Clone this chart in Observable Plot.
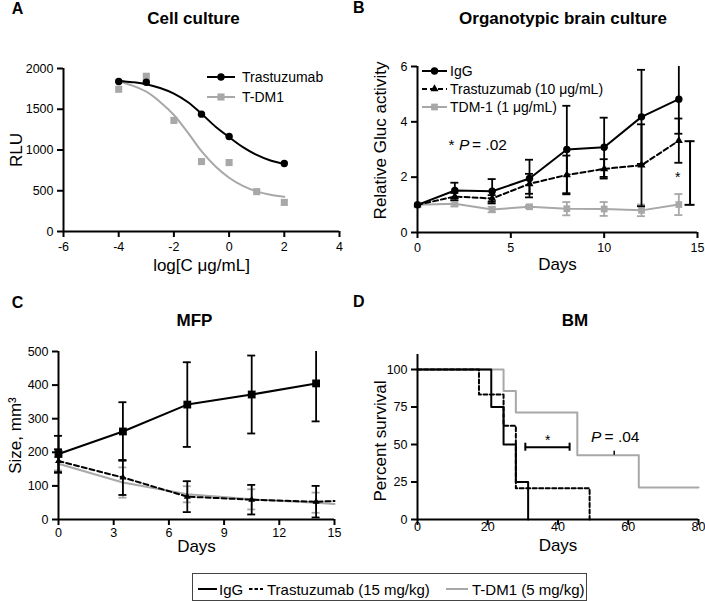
<!DOCTYPE html>
<html><head><meta charset="utf-8">
<script src="https://cdn.jsdelivr.net/npm/d3@7"></script>
<script src="https://cdn.jsdelivr.net/npm/@observablehq/plot@0.6"></script>
<style>
body{margin:0;background:#fff;}
#fig{position:relative;width:705px;height:601px;font-family:"Liberation Sans",Arial,Helvetica,sans-serif;color:#000;overflow:hidden;background:#fff}
.lbl{position:absolute;white-space:nowrap;line-height:1;}
</style></head><body><div id="fig"></div>
<script>
// ---------------- DATA ----------------
// Panel A: Cell culture (log concentration vs RLU)
const trastLogC = [-4, -3, -1, 0, 2];
const trastRLU  = [1840, 1832, 1440, 1165, 835];
const tdm1LogC  = [-4, -3, -2, -1, 0, 1, 2];
const tdm1RLU   = [1745, 1905, 1363, 858, 846, 489, 357];
// fitted curves
const fitLogC     = [-4, -3.5, -3, -2.5, -2, -1.5, -1, -0.5, 0, 0.5, 1, 1.5, 2];
const trastFitRLU = [1848, 1832, 1807, 1760, 1692, 1589, 1445, 1289, 1158, 1035, 940, 871, 830];
const tdm1FitRLU  = [1844, 1790, 1715, 1590, 1430, 1215, 985, 800, 660, 560, 492, 450, 425];
const xTicksA = [-6, -4, -2, 0, 2, 4];
const yTicksA = [0, 500, 1000, 1500, 2000];

// Panel B: Organotypic brain culture
const daysB       = [0, 2, 4, 6, 8, 10, 12, 14];
const igGB        = [1.0, 1.52, 1.49, 1.95, 3.0, 3.08, 4.18, 4.82];
const igGBsem     = [0, 0.28, 0.44, 0.68, 1.58, 1.07, 1.70, 1.25];
const trastB      = [1.0, 1.30, 1.23, 1.76, 2.08, 2.30, 2.43, 3.32];
const trastBsem   = [0, 0.13, 0.12, 0.36, 0.70, 0.35, 1.48, 0.80];
const tdm1B       = [1.0, 1.04, 0.83, 0.93, 0.86, 0.85, 0.80, 1.01];
const tdm1Bsem    = [0, 0.10, 0.10, 0.05, 0.24, 0.25, 0.21, 0.38];
const xTicksB = [0, 5, 10, 15];
const yTicksB = [0, 2, 4, 6];

// Panel C: MFP
const daysC       = [0, 3.5, 7, 10.5, 14];
const igGC        = [195, 262, 342, 372, 405];
const igGCsem     = [54, 87, 126, 116, 113];
const trastCdays  = [0, 3.5, 7, 10.5, 14, 15];
const trastC      = [174, 125, 68, 59, 53, 55];
const trastCsem   = [35, 52, 46, 44, 47];
const tdm1Cdays   = [0, 3.5, 7, 10.5, 14, 15];
const tdm1C       = [166, 110, 75, 60, 50, 46];
const tdm1Csem    = [20, 45, 24, 30, 30];
const xTicksC = [0, 3, 6, 9, 12, 15];
const yTicksC = [0, 100, 200, 300, 400, 500];

// Panel D: BM survival (Kaplan-Meier)
const kmIgGDays   = [0, 21, 24.5, 28, 31.5];
const kmIgGSurv   = [100, 75, 50, 25, 0];
const kmTrastDays = [0, 17.5, 24.5, 28, 49];
const kmTrastSurv = [100, 83.3, 62.5, 20.8, 0];
const kmTdm1Days  = [0, 24.5, 28, 45.5, 63, 80];
const kmTdm1Surv  = [100, 85.7, 71.4, 42.9, 21.4, 21.4];
const censorDays  = [56];
const censorSurv  = [42.9];
const xTicksD = [0, 20, 40, 60, 80];
const yTicksD = [0, 25, 50, 75, 100];

// annotations
const bracketB = [{x: 14.6, y1: 1.0, y2: 3.3}];
const starB    = [{x: 13.94, y: 1.83}];
const pTextB   = [{x: 1.66, y: 3.0}];
const bracketD = [{x1: 30.7, x2: 43.3, y: 48.2}];
const starD    = [{x: 37.1, y: 50}];
const pTextD   = [{x: 49.4, y: 51.5}];

// ---------------- HELPERS ----------------
const FONT = '"Liberation Sans", Arial, Helvetica, sans-serif';
const GRAY = "#a8a8a8";
const fig = document.getElementById("fig");
const rows = (xs, ys, es) => xs.map((x, i) => ({x, y: ys[i], e: es ? (es[i] ?? 0) : 0}));

function errMarks(data, color, yMax) {
  const r = data.filter(d => d.e > 0);
  const common = {stroke: color, strokeWidth: 1.8};
  return [
    Plot.ruleX(r, {x: "x", y1: d => d.y - d.e, y2: d => Math.min(d.y + d.e, yMax), ...common}),
    Plot.ruleY(r.filter(d => d.y + d.e <= yMax), {x1: "x", x2: "x", y: d => d.y + d.e, insetLeft: -4, insetRight: -4, ...common}),
    Plot.ruleY(r, {x1: "x", x2: "x", y: d => d.y - d.e, insetLeft: -4, insetRight: -4, ...common})
  ];
}

function panel(cfg, marks) {
  const {width, height, m, xDomain, yDomain, xTicks, yTicks, xLabel, yLabel, xLabelDy, yLabelDx, yLabelDy = 0, xTickPadding = 5} = cfg;
  return Plot.plot({
    width, height,
    marginTop: m[0], marginRight: m[1], marginBottom: m[2], marginLeft: m[3],
    style: {fontFamily: FONT, background: "transparent", overflow: "visible", color: "#000"},
    x: {domain: xDomain},
    y: {domain: yDomain},
    marks: [
      ...marks,
      Plot.axisX({ticks: xTicks, tickFormat: d => String(d), tickSize: 6, tickPadding: xTickPadding, fontSize: 12.5, strokeWidth: 2, label: null}),
      Plot.axisY({ticks: yTicks, tickFormat: d => String(d), tickSize: 6, tickPadding: 4, fontSize: 12.5, strokeWidth: 2, label: null}),
      Plot.ruleX([xDomain[0]], {y1: () => yDomain[0], y2: () => yDomain[1], strokeWidth: 2}),
      Plot.ruleY([yDomain[0]], {x1: () => xDomain[0], x2: () => xDomain[1], strokeWidth: 2}),
      Plot.text([xLabel], {text: d => d, frameAnchor: "bottom", textAnchor: "middle", lineAnchor: "bottom", dy: xLabelDy, fontSize: 17}),
      Plot.text([yLabel], {text: d => d, frameAnchor: "left", textAnchor: "middle", lineAnchor: "top", rotate: -90, dx: yLabelDx, dy: yLabelDy, fontSize: 17})
    ]
  });
}

function place(node, left, top) {
  node.style.position = "absolute";
  node.style.left = left + "px";
  node.style.top = top + "px";
  fig.appendChild(node);
}

function label(text, x, baseline, size, opts = {}) {
  const d = document.createElement("div");
  d.className = "lbl";
  d.innerHTML = text;
  d.style.fontSize = size + "px";
  d.style.fontWeight = opts.bold ? "bold" : "normal";
  d.style.top = (baseline - 0.8465 * size) + "px";
  d.style.left = x + "px";
  if (opts.center) d.style.transform = "translateX(-50%)";
  fig.appendChild(d);
}

function swatch(left, cy, w, {stroke, dash, symbol, r, fill}) {
  const svg = d3.create("svg").attr("width", w).attr("height", 14)
    .style("position", "absolute").style("left", left + "px").style("top", (cy - 7) + "px").style("overflow", "visible");
  svg.append("line").attr("x1", 0).attr("x2", w).attr("y1", 7).attr("y2", 7)
    .attr("stroke", stroke).attr("stroke-width", 2).attr("stroke-dasharray", dash || null);
  if (symbol) svg.append("path").attr("transform", `translate(${w / 2},7)`)
    .attr("d", d3.symbol(symbol, Math.PI * r * r)()).attr("fill", fill);
  fig.appendChild(svg.node());
}

// ---------------- PANEL A ----------------
const fitRowsT = rows(fitLogC, trastFitRLU);
const fitRowsD = rows(fitLogC, tdm1FitRLU);
place(panel({
  width: 352, height: 280, m: [68, 13, 49, 63],
  xDomain: [-6, 4], yDomain: [0, 2000], xTicks: xTicksA, yTicks: yTicksA,
  xLabel: "log[C μg/mL]", yLabel: "RLU", xLabelDy: 39, yLabelDx: -54
}, [
  Plot.line(fitRowsD, {x: "x", y: "y", stroke: GRAY, strokeWidth: 2, curve: "monotone-x"}),
  Plot.line(fitRowsT, {x: "x", y: "y", stroke: "#000", strokeWidth: 2, curve: "monotone-x"}),
  Plot.dot(rows(tdm1LogC, tdm1RLU), {x: "x", y: "y", symbol: "square", r: 4, fill: GRAY}),
  Plot.dot(rows(trastLogC, trastRLU), {x: "x", y: "y", symbol: "circle", r: 3.7, fill: "#000"})
]), 0, 0);

// ---------------- PANEL B ----------------
const rIgGB = rows(daysB, igGB, igGBsem);
const rTrB = rows(daysB, trastB, trastBsem);
const rTdB = rows(daysB, tdm1B, tdm1Bsem);
const pTextStyle = {x: "x", y: "y", textAnchor: "start", lineAnchor: "bottom", fontSize: 15.5};
place(panel({
  width: 353, height: 280, m: [66, 8, 48, 65],
  xDomain: [0, 15], yDomain: [0, 6], xTicks: xTicksB, yTicks: yTicksB,
  xLabel: "Days", yLabel: "Relative Gluc activity", xLabelDy: 37.5, yLabelDx: -44, yLabelDy: -9
}, [
  ...errMarks(rTdB, GRAY, 6),
  Plot.line(rTdB, {x: "x", y: "y", stroke: GRAY, strokeWidth: 2}),
  Plot.dot(rTdB, {x: "x", y: "y", symbol: "square", r: 3.8, fill: GRAY}),
  ...errMarks(rTrB, "#000", 6),
  Plot.line(rTrB, {x: "x", y: "y", stroke: "#000", strokeWidth: 2, strokeDasharray: "5,3"}),
  Plot.dot(rTrB, {x: "x", y: "y", symbol: "triangle", r: 3, fill: "#000"}),
  ...errMarks(rIgGB, "#000", 6),
  Plot.line(rIgGB, {x: "x", y: "y", stroke: "#000", strokeWidth: 2}),
  Plot.dot(rIgGB, {x: "x", y: "y", symbol: "circle", r: 3.7, fill: "#000"}),
  Plot.ruleX(bracketB, {x: "x", y1: "y1", y2: "y2", strokeWidth: 2}),
  Plot.ruleY(bracketB, {x1: "x", x2: "x", y: "y1", insetLeft: -5, insetRight: -5, strokeWidth: 2}),
  Plot.ruleY(bracketB, {x1: "x", x2: "x", y: "y2", insetLeft: -5, insetRight: -5, strokeWidth: 2}),
  Plot.text(starB, {x: "x", y: "y", text: () => "*", lineAnchor: "bottom", fontSize: 14}),
  Plot.text(pTextB, {...pTextStyle, text: () => "*"}),
  Plot.text(pTextB, {...pTextStyle, text: () => "P", fontStyle: "italic", dx: 10.6}),
  Plot.text(pTextB, {...pTextStyle, text: () => "= .02", dx: 23.5})
]), 352, 0);

// ---------------- PANEL C ----------------
const rIgGC = rows(daysC, igGC, igGCsem);
const rTrCpts = rows(daysC, trastC, trastCsem);
const rTdCpts = rows(daysC, tdm1C, tdm1Csem);
place(panel({
  width: 352, height: 280, m: [71, 18, 41, 58],
  xDomain: [0, 15], yDomain: [0, 500], xTicks: xTicksC, yTicks: yTicksC,
  xLabel: "Days", yLabel: "Size, mm³", xLabelDy: 32, yLabelDx: -50, xTickPadding: 3
}, [
  ...errMarks(rTdCpts, GRAY, 500),
  Plot.line(rows(tdm1Cdays, tdm1C), {x: "x", y: "y", stroke: GRAY, strokeWidth: 2}),
  ...errMarks(rTrCpts, "#000", 500),
  Plot.line(rows(trastCdays, trastC), {x: "x", y: "y", stroke: "#000", strokeWidth: 2, strokeDasharray: "5,3"}),
  Plot.dot(rTrCpts, {x: "x", y: "y", symbol: "triangle", r: 2.6, fill: "#000"}),
  ...errMarks(rIgGC, "#000", 500),
  Plot.line(rIgGC, {x: "x", y: "y", stroke: "#000", strokeWidth: 2}),
  Plot.dot(rIgGC, {x: "x", y: "y", symbol: "square", r: 4.4, fill: "#000"})
]), 0, 280);

// ---------------- PANEL D ----------------
place(panel({
  width: 353, height: 280, m: [74, 7, 41, 65],
  xDomain: [0, 80], yDomain: [0, 110], xTicks: xTicksD, yTicks: yTicksD,
  xLabel: "Days", yLabel: "Percent survival", xLabelDy: 31, yLabelDx: -44, yLabelDy: 4, xTickPadding: -3
}, [
  Plot.line(rows(kmTdm1Days, kmTdm1Surv), {x: "x", y: "y", stroke: GRAY, strokeWidth: 2, curve: "step-after"}),
  Plot.line(rows(kmTrastDays, kmTrastSurv), {x: "x", y: "y", stroke: "#000", strokeWidth: 2, strokeDasharray: "4,2.5", curve: "step-after"}),
  Plot.line(rows(kmIgGDays, kmIgGSurv), {x: "x", y: "y", stroke: "#000", strokeWidth: 2, curve: "step-after"}),
  Plot.ruleX(rows(censorDays, censorSurv), {x: "x", y1: "y", y2: "y", insetTop: -4, insetBottom: 0, stroke: "#000", strokeWidth: 1.5}),
  Plot.ruleY(bracketD, {x1: "x1", x2: "x2", y: "y", strokeWidth: 2}),
  Plot.ruleX(bracketD, {x: "x1", y1: "y", y2: "y", insetTop: -4, insetBottom: -4, strokeWidth: 2}),
  Plot.ruleX(bracketD, {x: "x2", y1: "y", y2: "y", insetTop: -4, insetBottom: -4, strokeWidth: 2}),
  Plot.text(starD, {x: "x", y: "y", text: () => "*", lineAnchor: "bottom", fontSize: 14}),
  Plot.text(pTextD, {...pTextStyle, text: () => "P", fontStyle: "italic"}),
  Plot.text(pTextD, {...pTextStyle, text: () => "= .04", dx: 13.5})
]), 352, 280);

// ---------------- TITLES & LETTERS ----------------
label("A", 11.7, 15, 16, {bold: true});
label("B", 353, 14, 16, {bold: true});
label("C", 11.7, 309, 16, {bold: true});
label("D", 353, 308, 16, {bold: true});
label("Cell culture", 193.5, 24, 17, {bold: true, center: true});
label("Organotypic brain culture", 563, 24, 17, {bold: true, center: true});
label("MFP", 194.5, 326.7, 17, {bold: true, center: true});
label("BM", 575, 326.7, 17, {bold: true, center: true});

// ---------------- IN-PLOT LEGENDS ----------------
swatch(207, 77, 28, {stroke: "#000", symbol: d3.symbolCircle, r: 3.7, fill: "#000"});
label("Trastuzumab", 242, 82, 14);
swatch(207, 97, 28, {stroke: GRAY, symbol: d3.symbolSquare, r: 4, fill: GRAY});
label("T-DM1", 242, 102, 14);

swatch(422, 71, 25, {stroke: "#000", symbol: d3.symbolCircle, r: 3.7, fill: "#000"});
label("IgG", 450, 76, 14);
swatch(422, 89, 25, {stroke: "#000", dash: "5,3", symbol: d3.symbolTriangle, r: 3, fill: "#000"});
label("Trastuzumab (10 μg/mL)", 450, 94, 14);
swatch(422, 107, 25, {stroke: GRAY, symbol: d3.symbolSquare, r: 3.8, fill: GRAY});
label("TDM-1 (1 μg/mL)", 450, 112, 14);

// ---------------- BOTTOM LEGEND ----------------
const box = document.createElement("div");
Object.assign(box.style, {position: "absolute", left: "192px", top: "573px", width: "395px", height: "28px", border: "1px solid #444", boxSizing: "border-box"});
fig.appendChild(box);
swatch(198, 589, 19, {stroke: "#000"});
label("IgG", 219, 594.4, 15);
swatch(249, 589, 14, {stroke: "#000", dash: "3.5,2"});
label("Trastuzumab (15 mg/kg)", 267, 594.4, 15);
swatch(446, 589, 22, {stroke: GRAY});
label("T-DM1 (5 mg/kg)", 472, 594.4, 15);
</script></body></html>
